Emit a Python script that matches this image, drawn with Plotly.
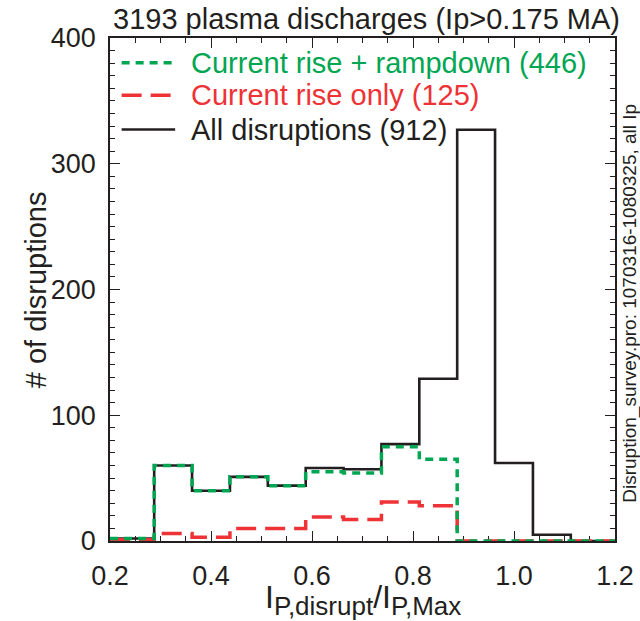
import plotly.graph_objects as go

# ---- data ----
bin_edges = [0.2, 0.2875, 0.3625, 0.4375, 0.5125, 0.5875, 0.6625, 0.7375,
             0.8125, 0.8875, 0.9625, 1.0375, 1.1125, 1.1875, 1.2]
all_disruptions = [2, 60, 40, 51, 44, 58, 57, 77, 129, 327, 62, 5, 0, 0]
rise_rampdown = [2, 60, 40, 51, 44, 55, 54, 75, 65, 0, 0, 0, 0, 0]
rise_only = [1, 6, 3, 10, 10, 19, 17, 31, 28, 0, 0, 0, 0, 0]

series_names = ["Current rise + rampdown (446)", "Current rise only (125)", "All disruptions (912)"]
title_text = "3193 plasma discharges (Ip>0.175 MA)"
side_text = "Disruption_survey.pro: 1070316-1080325, all Ip"
x_title = ("I<sub><span style='font-size:26px'>P,disrupt</span></sub>/"
           "I<sub><span style='font-size:26px'>P,Max</span></sub>")
y_title = "# of disruptions"
x_ticks = [0.2, 0.4, 0.6, 0.8, 1.0, 1.2]
x_tick_labels = ["0.2", "0.4", "0.6", "0.8", "1.0", "1.2"]
y_ticks = [0, 100, 200, 300, 400]

GREEN = "#00A651"
RED = "#EE3236"
BLACK = "#231F20"
FONT = "Liberation Sans, Arial, sans-serif"

def steps(vals):
    return vals + [vals[-1]]

fig = go.Figure()
fig.add_trace(go.Scatter(x=bin_edges, y=steps(all_disruptions), mode="lines", line_shape="hv",
                         line=dict(color=BLACK, width=2.6), showlegend=False))
fig.add_trace(go.Scatter(x=bin_edges, y=steps(rise_only), mode="lines", line_shape="hv",
                         line=dict(color=RED, width=3.5, dash="20px,9px"), showlegend=False))
fig.add_trace(go.Scatter(x=bin_edges, y=steps(rise_rampdown), mode="lines", line_shape="hv",
                         line=dict(color=GREEN, width=3.5, dash="8px,6px"), showlegend=False))

# legend drawn as sample lines + coloured labels
legend_rows = [(series_names[0], GREEN, "8px,6px", 3.5, 0.951),
               (series_names[1], RED, "20px,9px", 3.5, 0.886),
               (series_names[2], BLACK, "solid", 2.6, 0.818)]
for name, col, dash, w, yy in legend_rows:
    fig.add_shape(type="line", xref="paper", yref="paper", x0=0.023, x1=0.129, y0=yy, y1=yy,
                  line=dict(color=col, width=w, dash=dash))
    fig.add_annotation(xref="paper", yref="paper", x=0.156, y=yy, xanchor="left", yanchor="middle",
                       text=name, showarrow=False, font=dict(family=FONT, size=29, color=col))

fig.add_annotation(xref="paper", yref="paper", x=0.508, y=1.0387, xanchor="center", yanchor="middle",
                   text=title_text, showarrow=False, font=dict(family=FONT, size=29, color=BLACK))
fig.add_annotation(xref="paper", yref="paper", x=1.029, y=0.473, xanchor="center", yanchor="middle",
                   text=side_text, textangle=-90, showarrow=False,
                   font=dict(family=FONT, size=19, color=BLACK))
# axis titles
fig.add_annotation(xref="paper", yref="paper", x=0.5, y=-0.118, xanchor="center", yanchor="middle",
                   text=x_title, showarrow=False, font=dict(family=FONT, size=32, color=BLACK))
fig.add_annotation(xref="paper", yref="paper", x=-0.147, y=0.5, xanchor="center", yanchor="middle",
                   text=y_title, textangle=-90, showarrow=False,
                   font=dict(family=FONT, size=29, color=BLACK))

axis_common = dict(showgrid=False, zeroline=False, showline=True, linecolor=BLACK, linewidth=1.5,
                   mirror="ticks", ticks="inside", tickcolor=BLACK, tickwidth=1.2,
                   tickfont=dict(family=FONT, size=27, color=BLACK), layer="below traces")

fig.update_xaxes(range=[0.2, 1.2], tickvals=x_ticks, ticktext=x_tick_labels, ticklen=10,
                 minor=dict(dtick=0.05, ticks="inside", ticklen=5, tickcolor=BLACK, tickwidth=1.2),
                 ticklabelstandoff=10, **axis_common)
fig.update_yaxes(range=[0, 400], tickvals=y_ticks, ticklen=10,
                 minor=dict(dtick=10, ticks="inside", ticklen=5, tickcolor=BLACK, tickwidth=1.2),
                 ticklabelstandoff=7, **axis_common)

fig.update_layout(width=640, height=621, plot_bgcolor="white", paper_bgcolor="white",
                  margin=dict(l=110, r=24.5, t=37.5, b=79.5, autoexpand=False),
                  font=dict(family=FONT, color=BLACK))

fig.write_html("out.html")
